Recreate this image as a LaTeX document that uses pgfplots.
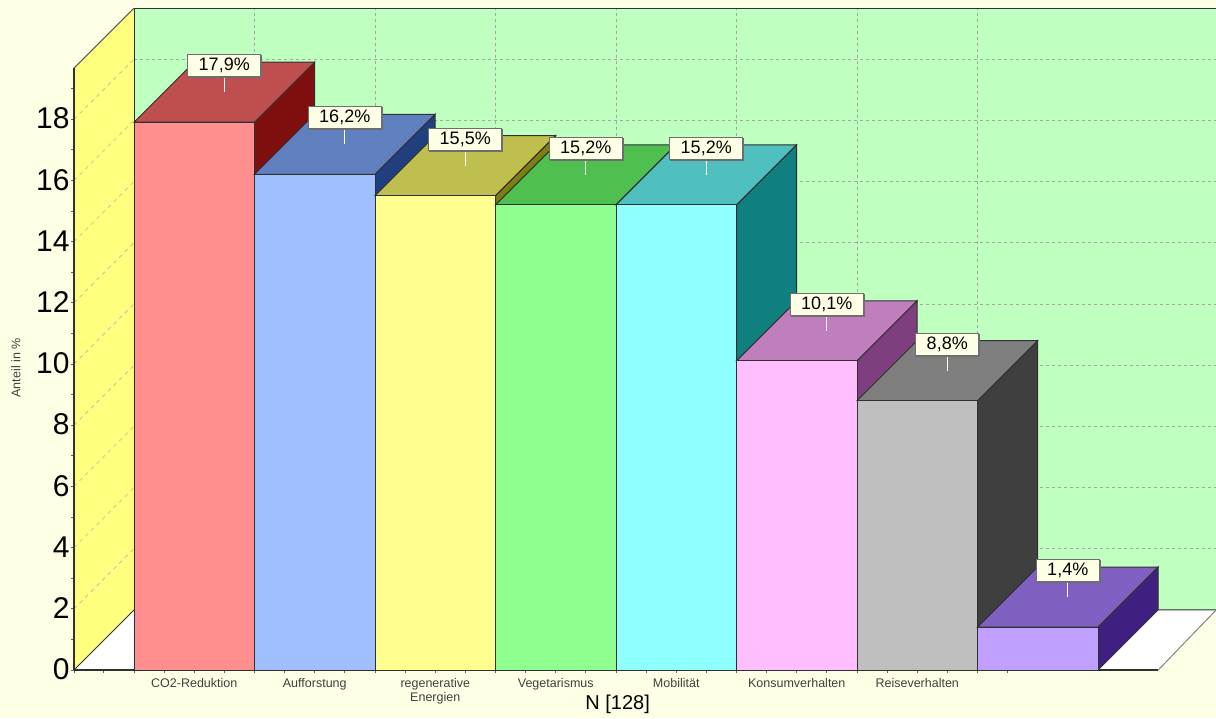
\documentclass[border=0pt]{standalone}
\usepackage{fontspec}
\setmainfont{Liberation Sans}
\usepackage{pgfplots}
\usetikzlibrary{shadows}
\pgfplotsset{compat=1.18}

\definecolor{pagebg}{HTML}{FFFFE6}
\definecolor{wallback}{HTML}{BFFFBF}
\definecolor{wallside}{HTML}{FFFF7F}
\definecolor{edge}{HTML}{303030}
\definecolor{gridc}{HTML}{A0A8A0}
\definecolor{gridy}{HTML}{C4C49C}

\definecolor{redF}{HTML}{FF8F8F}\definecolor{redT}{HTML}{BF4F4F}\definecolor{redS}{HTML}{7F0F0F}
\definecolor{bluF}{HTML}{9FBFFF}\definecolor{bluT}{HTML}{5F7FBF}\definecolor{bluS}{HTML}{1F3F7F}
\definecolor{yelF}{HTML}{FFFF8F}\definecolor{yelT}{HTML}{BFBF4F}\definecolor{yelS}{HTML}{7F7F0F}
\definecolor{grnF}{HTML}{8FFF8F}\definecolor{grnT}{HTML}{4FBF4F}\definecolor{grnS}{HTML}{0F7F0F}
\definecolor{cyaF}{HTML}{8FFFFF}\definecolor{cyaT}{HTML}{4FBFBF}\definecolor{cyaS}{HTML}{0F7F7F}
\definecolor{pnkF}{HTML}{FFBFFF}\definecolor{pnkT}{HTML}{BF7FBF}\definecolor{pnkS}{HTML}{7F3F7F}
\definecolor{gryF}{HTML}{BFBFBF}\definecolor{gryT}{HTML}{7F7F7F}\definecolor{gryS}{HTML}{3F3F3F}
\definecolor{vioF}{HTML}{BF9FFF}\definecolor{vioT}{HTML}{7F5FBF}\definecolor{vioS}{HTML}{3F1F7F}

% depth of the fake 3D: 60 px sideways, 60 px up, in axis units
\def\dx{0.498}
\def\dy{1.961}

% #1 left edge, #2 value, #3 colour prefix
\newcommand{\threedbar}[3]{%
  \pgfmathsetmacro\xa{#1+1}%
  \pgfmathsetmacro\xb{#1+\dx}%
  \pgfmathsetmacro\xc{#1+1+\dx}%
  \pgfmathsetmacro\ya{#2+\dy}%
  \pgfmathsetmacro\xm{#1+0.5}%
  \pgfmathsetmacro\xp{#1+0.5+\dx/2}%
  \pgfmathsetmacro\yp{#2+\dy/2}%
  \pgfmathsetmacro\yq{#2+\dy/2+0.523}%
  \addplot[fill=#3S,draw=edge,line width=1pt] coordinates {(\xa,0) (\xc,\dy) (\xc,\ya) (\xa,#2)} -- cycle;
  \addplot[fill=#3T,draw=edge,line width=1pt] coordinates {(#1,#2) (\xb,\ya) (\xc,\ya) (\xa,#2)} -- cycle;
  \addplot[white,line width=1pt] coordinates {(\xp,\yp) (\xp,\yq)};
  \addplot[ybar,bar width=120.5pt,bar shift=0pt,fill=#3F,draw=edge,line width=1pt,
    nodes near coords={\pgfmathprintnumber[use comma,fixed,fixed zerofill,precision=1,assume math mode=true]{\pgfplotspointmeta}\%},
    every node near coord/.append style={anchor=south,xshift=30pt,yshift=45pt,fill=pagebg,draw=edge!70,
      line width=1pt,text=black,inner xsep=11pt,inner ysep=0pt,minimum height=22pt,
      general shadow={shadow xshift=1pt,shadow yshift=-1pt,fill=black!60},
      font=\fontsize{18}{20}\selectfont}]
    coordinates {(\xm,#2)};
}

\begin{document}
\begin{tikzpicture}
\fill[pagebg] (0,0) rectangle (1216pt,718pt);
\path[use as bounding box] (0,0) rectangle (1216pt,718pt);
\begin{axis}[
  at={(74pt,48pt)},anchor=south west,
  scale only axis,width=1142pt,height=670pt,
  xmin=-0.498,xmax=8.98,ymin=0,ymax=21.895,
  clip=false,
  axis x line=bottom,axis y line=left,
  axis line style={draw=none},
  tick align=outside,
  major tick length=3pt,minor tick length=3pt,
  tick style={color=black!60,line width=0.8pt},
  /pgf/number format/assume math mode=true,
  ytick={0,2,...,18},
  minor ytick={1,3,...,19},
  yticklabel style={font=\fontsize{30}{32}\selectfont,text=black,xshift=2pt,yshift=0.7pt},
  xtick={0.5,1.5,2.5,3.5,4.5,5.5,6.5},
  xticklabels={CO2-Reduktion,Aufforstung,{regenerative\\Energien},Vegetarismus,Mobilität,Konsumverhalten,Reiseverhalten},
  minor xtick={-0.498,-0.25,0,0.25,0.75,1,1.25,1.75,2,2.25,2.75,3,3.25,3.75,4,4.25,4.75,5,5.25,5.75,6,6.25,6.75,7,7.25},
  xticklabel style={font=\fontsize{12.5}{13.5}\selectfont,text=black!75,align=center,anchor=north,yshift=-2pt},
  xlabel={N [128]},
  xlabel style={at={(rel axis cs:0.476,0)},anchor=center,yshift=-34pt,font=\fontsize{20}{22}\selectfont},
  ylabel={Anteil in \%},
  ylabel style={at={(rel axis cs:0,0.451)},anchor=center,yshift=58pt,font=\fontsize{12.5}{13.5}\selectfont,text=black!75},
]
% walls and floor
\addplot[fill=wallback,draw=none] coordinates {(0,1.961) (0,21.63) (8.98,21.63) (8.98,1.961)} -- cycle;
\addplot[fill=wallside,draw=none] coordinates {(-0.498,0) (-0.498,19.67) (0,21.63) (0,1.961)} -- cycle;
\addplot[fill=white,draw=none] coordinates {(-0.498,0) (0,1.961) (8.98,1.961) (8.5,0)} -- cycle;

% back wall grid
\pgfplotsinvokeforeach{3.961,5.961,7.961,9.961,11.961,13.961,15.961,17.961,19.961}{
  \addplot[gridc,line width=0.8pt,dash pattern=on 3pt off 3pt] coordinates {(0,#1) (8.98,#1)};
}
\pgfplotsinvokeforeach{1,2,3,4,5,6,7}{
  \addplot[gridc,line width=0.8pt,dash pattern=on 3pt off 3pt] coordinates {(#1,1.961) (#1,21.63)};
}
% side wall grid
\addplot[gridy,line width=0.8pt,dash pattern=on 4pt off 4pt] coordinates {(-0.498,2) (0,3.961)};
\addplot[gridy,line width=0.8pt,dash pattern=on 4pt off 4pt] coordinates {(-0.498,4) (0,5.961)};
\addplot[gridy,line width=0.8pt,dash pattern=on 4pt off 4pt] coordinates {(-0.498,6) (0,7.961)};
\addplot[gridy,line width=0.8pt,dash pattern=on 4pt off 4pt] coordinates {(-0.498,8) (0,9.961)};
\addplot[gridy,line width=0.8pt,dash pattern=on 4pt off 4pt] coordinates {(-0.498,10) (0,11.961)};
\addplot[gridy,line width=0.8pt,dash pattern=on 4pt off 4pt] coordinates {(-0.498,12) (0,13.961)};
\addplot[gridy,line width=0.8pt,dash pattern=on 4pt off 4pt] coordinates {(-0.498,14) (0,15.961)};
\addplot[gridy,line width=0.8pt,dash pattern=on 4pt off 4pt] coordinates {(-0.498,16) (0,17.961)};
\addplot[gridy,line width=0.8pt,dash pattern=on 4pt off 4pt] coordinates {(-0.498,18) (0,19.961)};

% wall outlines
\addplot[edge,line width=1pt] coordinates {(-0.498,0) (0,1.961) (8.98,1.961)};
\addplot[edge,line width=1pt] coordinates {(0,1.961) (0,21.63) (8.98,21.63)};
\addplot[edge!80,line width=1pt] coordinates {(-0.498,19.67) (0,21.63)};
\addplot[edge!60,line width=1pt] coordinates {(8.5,0) (8.98,1.961)};
\addplot[edge,line width=1.3pt] coordinates {(-0.498,0) (-0.498,19.67)};
\addplot[edge,line width=1.6pt] coordinates {(-0.498,0) (8.5,0)};

% bars, left to right so that each one hides the side of the one before
\threedbar{0}{17.9}{red}
\threedbar{1}{16.2}{blu}
\threedbar{2}{15.5}{yel}
\threedbar{3}{15.2}{grn}
\threedbar{4}{15.2}{cya}
\threedbar{5}{10.1}{pnk}
\threedbar{6}{8.8}{gry}
\threedbar{7}{1.4}{vio}
\end{axis}
\end{tikzpicture}
\end{document}
